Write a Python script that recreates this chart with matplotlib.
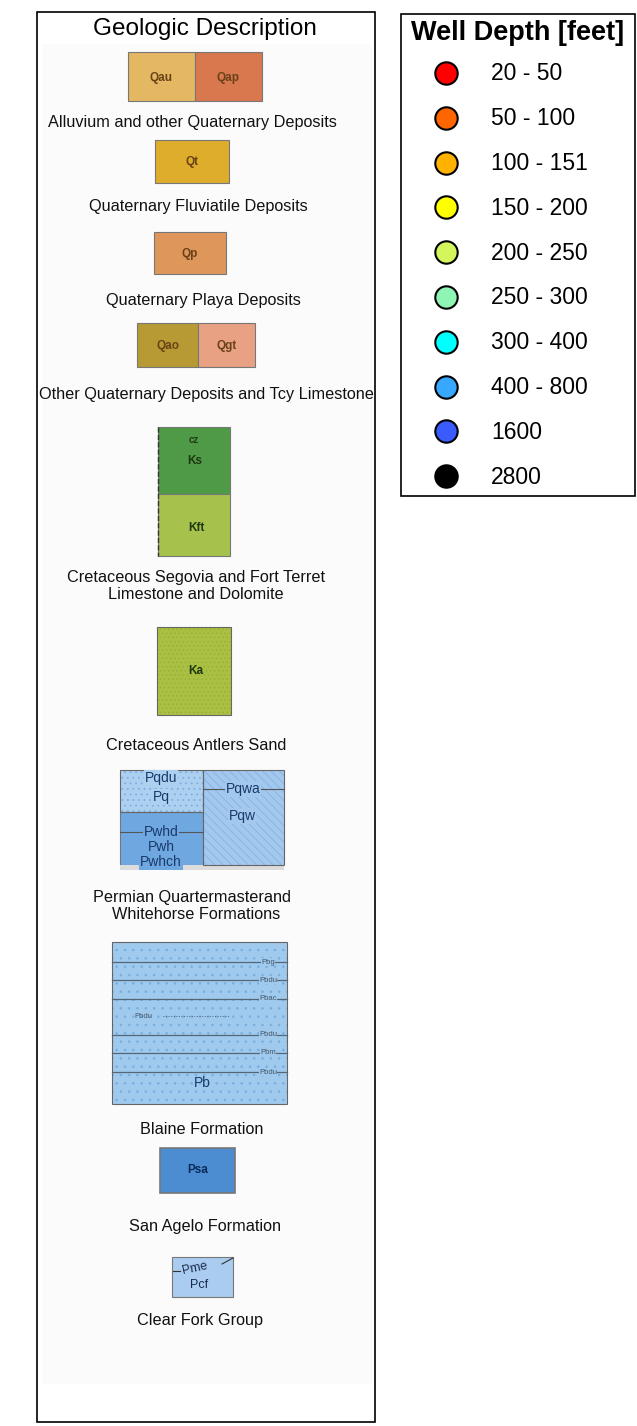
import matplotlib.pyplot as plt
from matplotlib.patches import Rectangle
import matplotlib as mpl

plt.rcParams['font.family'] = ['Liberation Sans', 'DejaVu Sans']
mpl.rcParams['hatch.linewidth'] = 0.6

# Well depth legend
depth_labels = ['20 - 50', '50 - 100', '100 - 151', '150 - 200', '200 - 250',
                '250 - 300', '300 - 400', '400 - 800', '1600', '2800']
depth_colors = ['#ff0000', '#ff6600', '#ffb300', '#ffff00', '#d4f55c',
                '#8ff5b5', '#00ffff', '#38a8ff', '#3a5cff', '#000000']

# Geologic units
geo_captions = ['Alluvium and other Quaternary Deposits',
                'Quaternary Fluviatile Deposits',
                'Quaternary Playa Deposits',
                'Other Quaternary Deposits and Tcy Limestone',
                'Cretaceous Segovia and Fort Terret\nLimestone and Dolomite',
                'Cretaceous Antlers Sand',
                'Permian Quartermasterand\n  Whitehorse Formations',
                'Blaine Formation',
                'San Agelo Formation',
                'Clear Fork Group']
unit_codes = ['Qau', 'Qap', 'Qt', 'Qp', 'Qao', 'Qgt', 'Ks', 'Kft', 'Ka',
              'Pq', 'Pwh', 'Pqw', 'Pb', 'Psa', 'Pcf']
unit_colors = ['#e4b862', '#d9784f', '#dfad2c', '#df965b', '#b79a33', '#e9a183',
               '#4f9a47', '#a6c24c', '#a9c043', '#acd0ef', '#6fa8e0', '#a2c8ee',
               '#9fcaee', '#4b8dd0', '#aaccf0']
blaine_subunits = ['Pbg', 'Pbdu', 'Pbac', 'Pbdu', 'Pbm', 'Pbdu']

fig = plt.figure(figsize=(6.37, 14.26), dpi=100)
ax = fig.add_axes([0, 0, 1, 1])
ax.set_xlim(0, 637)
ax.set_ylim(1426, 0)
ax.axis('off')

# frames
ax.add_patch(Rectangle((37, 12), 338, 1410, fill=False, ec='black', lw=1.2))
ax.add_patch(Rectangle((401, 14), 234, 482, fill=False, ec='black', lw=1.2))
ax.add_patch(Rectangle((42, 44), 330, 1340, fc='#fbfbfb', ec='none', zorder=0))

# well depth legend
ax.text(518, 33, 'Well Depth [feet]', ha='center', va='center', fontsize=19.5, fontweight='bold')
for i in range(len(depth_labels)):
    y = 73 + i * 44.8
    ax.scatter([446], [y], s=260, c=depth_colors[i], edgecolors='black', linewidths=1.5, zorder=3)
    ax.text(491, y + 1, depth_labels[i], ha='left', va='center', fontsize=16.5)

ax.text(205, 29, 'Geologic Description', ha='center', va='center', fontsize=17.5)

col = dict(zip(unit_codes, unit_colors))
code_kw = dict(ha='center', va='center', fontsize=8.5, color='#6a4218', fontweight='bold')
cap_kw = dict(ha='center', va='center', fontsize=11.7, color='#111111', linespacing=1.2)


def box(x, y, w, h, c, hatch=None, hc=None, lw=0.8):
    if hatch:
        ax.add_patch(Rectangle((x, y), w, h, fc=c, ec=hc, lw=0, hatch=hatch, zorder=1))
        ax.add_patch(Rectangle((x, y), w, h, fill=False, ec='#666666', lw=lw, zorder=2))
    else:
        ax.add_patch(Rectangle((x, y), w, h, fc=c, ec='#777777', lw=lw, zorder=1))


# Qau / Qap
box(128, 52, 67, 49, col['Qau'])
box(195, 52, 67, 49, col['Qap'])
ax.text(161, 78, 'Qau', **code_kw)
ax.text(228, 78, 'Qap', **code_kw)
ax.text(192, 122, geo_captions[0], **cap_kw)

# Qt
box(155, 140, 74, 43, col['Qt'])
ax.text(192, 162, 'Qt', **code_kw)
ax.text(198, 207, geo_captions[1], **cap_kw)

# Qp
box(154, 232, 72, 42, col['Qp'])
ax.text(190, 254, 'Qp', **code_kw)
ax.text(203, 301, geo_captions[2], **cap_kw)

# Qao / Qgt
box(137, 323, 61, 44, col['Qao'])
box(198, 323, 57, 44, col['Qgt'])
ax.text(168, 346, 'Qao', **code_kw)
ax.text(227, 346, 'Qgt', **code_kw)
ax.text(206, 394, geo_captions[3], **cap_kw)

# Ks / Kft
box(158, 427, 72, 67, col['Ks'])
box(158, 494, 72, 62, col['Kft'])
ax.plot([158, 158], [427, 556], ls='--', lw=1, color='#333333', zorder=3)
kk = dict(code_kw, color='#1f3a12')
ax.text(194, 440, 'cz', **dict(kk, fontsize=7))
ax.text(195, 461, 'Ks', **kk)
ax.text(196, 528, 'Kft', **kk)
ax.text(196, 586, geo_captions[4], **cap_kw)

# Ka
box(157, 627, 74, 88, col['Ka'], hatch='....', hc='#98b038')
ax.text(196, 671, 'Ka', **kk)
ax.text(196, 746, geo_captions[5], **cap_kw)

# Permian block
pk = dict(ha='center', va='center', fontsize=10, color='#1a3a6a')
box(120, 770, 83, 42, col['Pq'], hatch='...', hc='#80aee0')
box(120, 812, 83, 53, col['Pwh'])
box(203, 770, 81, 95, col['Pqw'], hatch='\\\\\\\\', hc='#86b2e4')
ax.add_patch(Rectangle((120, 865), 164, 5, fc='#dcdcdc', ec='none'))
ax.plot([203, 284], [789, 789], color='#555555', lw=0.8)
ax.plot([120, 203], [832, 832], color='#555555', lw=0.8)
for t, tx, ty in [('Pqdu', 161, 778), ('Pq', 161, 797), ('Pqwa', 243, 789),
                  ('Pqw', 242, 816), ('Pwhd', 161, 832), ('Pwh', 161, 847), ('Pwhch', 161, 862)]:
    c = col['Pq'] if ty < 812 else col['Pwh']
    if tx > 203:
        c = col['Pqw']
    ax.text(tx, ty, t, bbox=dict(fc=c, ec='none', pad=0.5), **pk)
ax.text(192, 906, geo_captions[6], **cap_kw)

# Blaine
box(112, 942, 175, 162, col['Pb'], hatch='..', hc='#78aee0')
line_ys = [962, 980, 999, 1035, 1053, 1072]
for t, ly in zip(blaine_subunits, line_ys):
    ax.plot([112, 287], [ly, ly], color='#556677', lw=0.9, zorder=3)
    ax.text(268, ly, t, ha='center', va='center', fontsize=5.5, color='#445566',
            bbox=dict(fc=col['Pb'], ec='none', pad=0.3), zorder=4)
ax.plot([163, 230], [1016, 1016], color='#556677', lw=0.7, ls=':', zorder=3)
ax.text(143, 1016, 'Pbdu', ha='center', va='center', fontsize=5.5, color='#445566', zorder=4)
ax.text(202, 1083, 'Pb', ha='center', va='center', fontsize=10, color='#1a3a6a', zorder=4)
ax.text(202, 1129, geo_captions[7], **cap_kw)

# Psa
box(160, 1148, 75, 45, col['Psa'], lw=1.2)
ax.text(198, 1170, 'Psa', ha='center', va='center', fontsize=8.5, color='#0d2a5a', fontweight='bold')
ax.text(205, 1226, geo_captions[8], **cap_kw)

# Pcf
box(172, 1257, 61, 40, col['Pcf'])
ax.plot([173, 180], [1271, 1271], color='#333333', lw=0.8)
ax.plot([222, 233], [1264, 1258], color='#333333', lw=0.8)
ax.text(195, 1268, 'Pme', ha='center', va='center', fontsize=9, color='#1a2a4a', rotation=12)
ax.text(199, 1285, 'Pcf', ha='center', va='center', fontsize=9, color='#1a2a4a')
ax.text(200, 1321, geo_captions[9], **cap_kw)

plt.savefig('out.png', dpi=100)
